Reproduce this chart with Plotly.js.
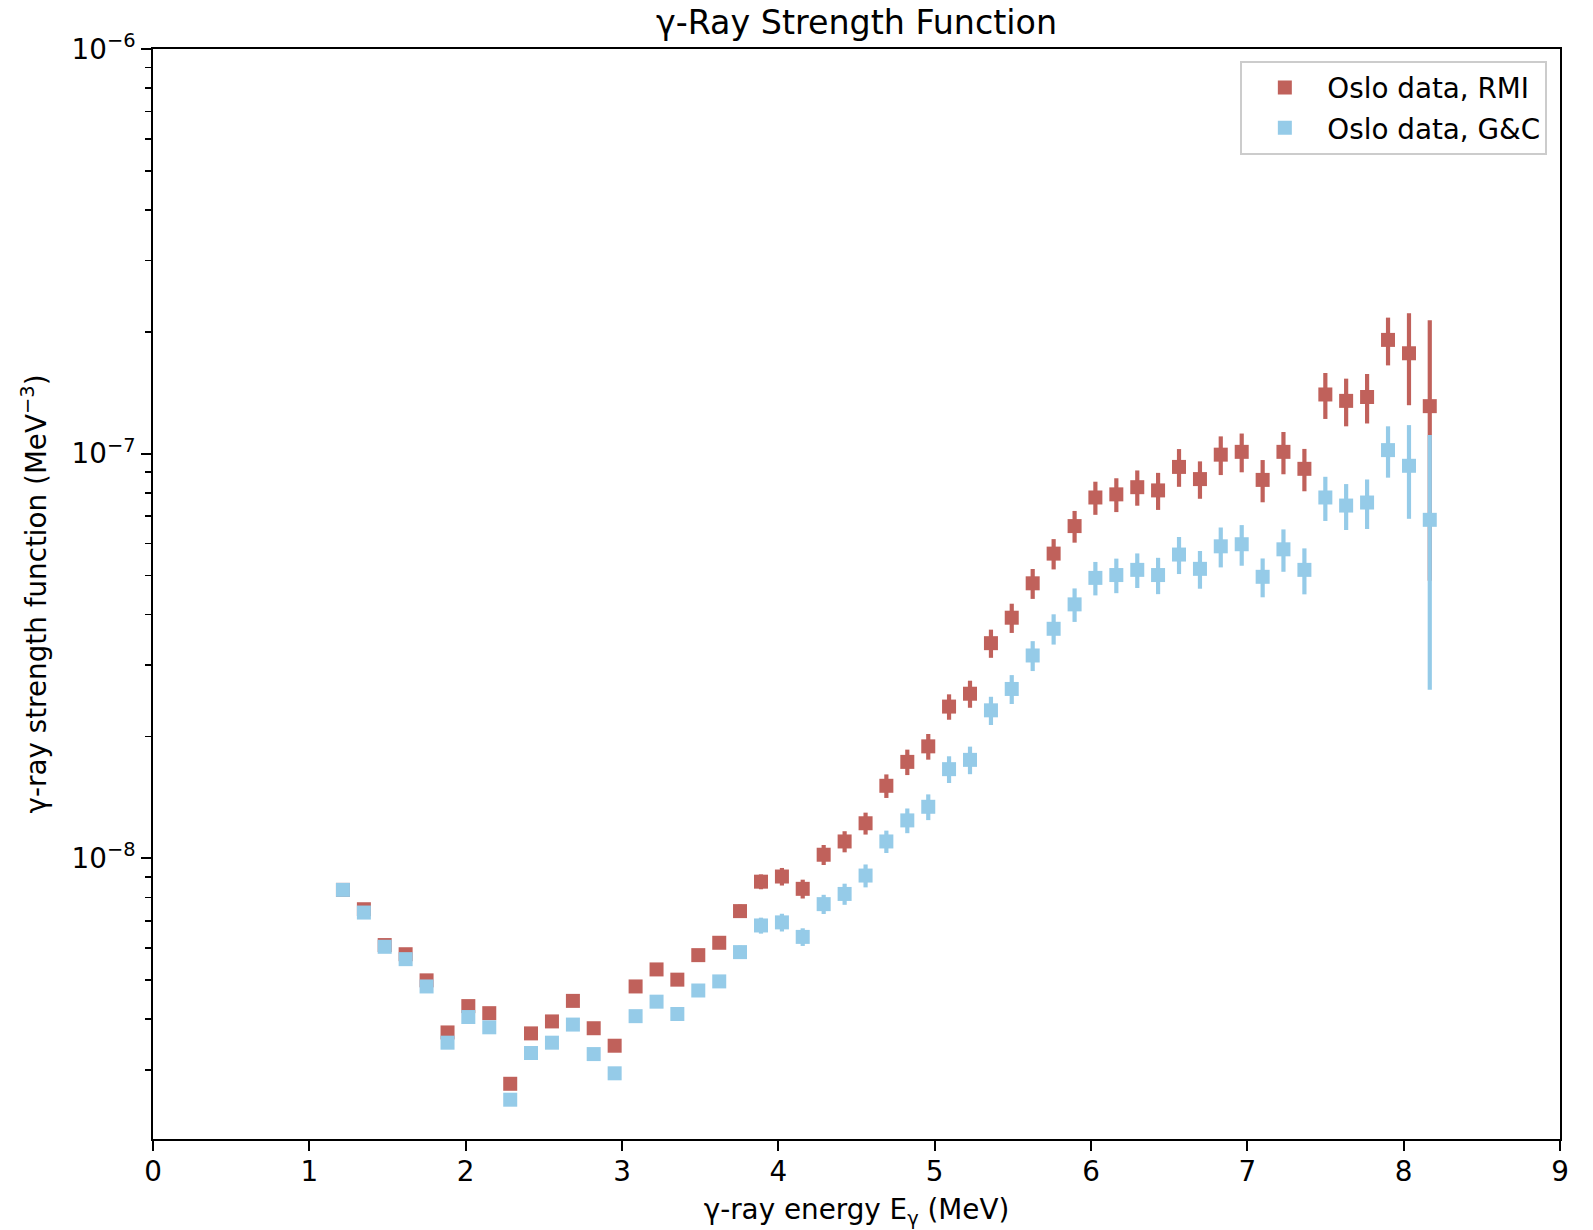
<!DOCTYPE html>
<html>
<head>
<meta charset="utf-8">
<script src="https://cdn.plot.ly/plotly-3.0.1.min.js"></script>
<style>html,body{margin:0;padding:0;background:#fff;}#chart{width:1593px;height:1230px;}</style>
</head>
<body>
<div id="chart"></div>
<script>
// gamma-ray energies (MeV)
const energy = [1.215,1.349,1.482,1.616,1.750,1.884,2.017,2.151,2.285,2.418,2.552,2.686,2.819,2.953,3.087,3.221,3.354,3.488,3.622,3.755,3.889,4.023,4.156,4.290,4.424,4.558,4.691,4.825,4.959,5.092,5.226,5.360,5.493,5.627,5.761,5.895,6.028,6.162,6.296,6.429,6.563,6.697,6.830,6.964,7.098,7.231,7.365,7.499,7.632,7.766,7.900,8.034,8.167];

// Oslo data, RMI
const rmiValues = [8.35e-9,7.48e-9,6.10e-9,5.79e-9,4.99e-9,3.71e-9,4.31e-9,4.14e-9,2.77e-9,3.69e-9,3.95e-9,4.44e-9,3.80e-9,3.44e-9,4.82e-9,5.31e-9,5.01e-9,5.76e-9,6.18e-9,7.40e-9,8.75e-9,9.01e-9,8.40e-9,1.02e-8,1.10e-8,1.22e-8,1.51e-8,1.73e-8,1.89e-8,2.37e-8,2.55e-8,3.40e-8,3.93e-8,4.78e-8,5.66e-8,6.62e-8,7.79e-8,7.93e-8,8.26e-8,8.11e-8,9.27e-8,8.65e-8,9.94e-8,1.01e-7,8.61e-8,1.01e-7,9.17e-8,1.40e-7,1.35e-7,1.38e-7,1.91e-7,1.77e-7,1.31e-7];
const rmiErrors = [1.67e-10,1.50e-10,1.22e-10,1.16e-10,1.00e-10,7.4e-11,8.6e-11,8.3e-11,5.5e-11,7.4e-11,7.9e-11,8.9e-11,7.6e-11,6.9e-11,1.2e-10,1.3e-10,1.4e-10,1.7e-10,2.0e-10,2.8e-10,3.7e-10,4.5e-10,4.5e-10,5.8e-10,6.6e-10,7.6e-10,1.01e-9,1.25e-9,1.38e-9,1.71e-9,1.96e-9,2.72e-9,3.26e-9,4.06e-9,4.87e-9,5.96e-9,7.32e-9,7.61e-9,8.26e-9,8.52e-9,9.92e-9,9.17e-9,1.09e-8,1.11e-8,1.03e-8,1.21e-8,1.10e-8,1.82e-8,1.82e-8,1.93e-8,2.58e-8,4.53e-8,8.25e-8];

// Oslo data, G&C
const gcValues = [8.35e-9,7.34e-9,6.04e-9,5.63e-9,4.82e-9,3.50e-9,4.05e-9,3.82e-9,2.53e-9,3.30e-9,3.50e-9,3.88e-9,3.28e-9,2.94e-9,4.07e-9,4.42e-9,4.12e-9,4.71e-9,4.96e-9,5.86e-9,6.82e-9,6.94e-9,6.39e-9,7.70e-9,8.16e-9,9.06e-9,1.10e-8,1.24e-8,1.34e-8,1.66e-8,1.75e-8,2.32e-8,2.62e-8,3.17e-8,3.69e-8,4.24e-8,4.93e-8,5.01e-8,5.16e-8,5.01e-8,5.63e-8,5.19e-8,5.90e-8,5.97e-8,4.96e-8,5.80e-8,5.16e-8,7.79e-8,7.44e-8,7.57e-8,1.02e-7,9.33e-8,6.86e-8];
const gcErrors = [1.67e-10,1.47e-10,1.21e-10,1.13e-10,9.6e-11,7.0e-11,8.1e-11,7.6e-11,5.1e-11,6.6e-11,7.0e-11,7.8e-11,6.6e-11,5.9e-11,1.0e-10,1.1e-10,1.15e-10,1.4e-10,1.6e-10,2.2e-10,3.1e-10,3.5e-10,3.2e-10,4.2e-10,4.9e-10,5.9e-10,7.0e-10,8.7e-10,9.8e-10,1.26e-9,1.37e-9,1.86e-9,2.15e-9,2.69e-9,3.17e-9,4.03e-9,4.68e-9,4.91e-9,5.06e-9,5.16e-9,5.91e-9,5.55e-9,6.67e-9,6.87e-9,5.46e-9,6.96e-9,6.71e-9,9.74e-9,9.67e-9,1.06e-8,1.48e-8,2.43e-8,4.25e-8];

const xTicks = [0,1,2,3,4,5,6,7,8,9];
const yTickVals = [1e-8,1e-7,1e-6];
const yTickText = ['10<sup>−8</sup>','10<sup>−7</sup>','10<sup>−6</sup>'];

const red = '#c0615b';
const blue = '#95cbe8';
const FONT = 'DejaVu Sans, sans-serif';

const minorVals = [];
[1e-9,1e-8,1e-7].forEach(d => { for (let k = 2; k <= 9; k++) minorVals.push(k*d); });

const traces = [
  {
    x: energy, y: rmiValues, type: 'scatter', mode: 'markers', name: 'Oslo data, RMI',
    legendgroup: 'a',
    marker: {symbol: 'square', size: 14, color: red},
    error_y: {type: 'data', array: rmiErrors, visible: true, color: red, thickness: 4.2, width: 0}
  },
  {
    x: energy, y: gcValues, type: 'scatter', mode: 'markers', name: 'Oslo data, G&C',
    legendgroup: 'b',
    marker: {symbol: 'square', size: 14, color: blue},
    error_y: {type: 'data', array: gcErrors, visible: true, color: blue, thickness: 4.2, width: 0}
  }
];

const layout = {
  width: 1593, height: 1230,
  paper_bgcolor: '#fff', plot_bgcolor: '#fff',
  font: {family: FONT, size: 27.8, color: '#000'},
  margin: {l: 152.5, r: 32.5, t: 49, b: 91, pad: 0},
  title: {text: 'γ-Ray Strength Function', font: {family: FONT, size: 33.3, color: '#000'},
          x: 0.5, xref: 'paper', xanchor: 'center', y: 1 - 22/1230, yref: 'container', yanchor: 'middle'},
  showlegend: true,
  legend: {
    x: 0.991, y: 0.989, xanchor: 'right', yanchor: 'top',
    bgcolor: 'rgba(255,255,255,0.8)', bordercolor: '#cccccc', borderwidth: 2,
    font: {family: FONT, size: 27.8, color: '#000'},
    tracegroupgap: 1, itemwidth: 75, traceorder: 'grouped'
  },
  xaxis: {
    range: [0, 9], tickmode: 'array', tickvals: xTicks, ticktext: xTicks.map(String),
    ticks: 'outside', ticklen: 9.7, tickwidth: 2.2, tickcolor: '#000', ticklabelstandoff: -3,
    showline: true, linecolor: '#000', linewidth: 2.2, mirror: true,
    showgrid: false, zeroline: false,
    tickfont: {family: FONT, size: 27.8, color: '#000'},
    title: {text: 'γ-ray energy E<sub>γ</sub> (MeV)', font: {family: FONT, size: 27.8, color: '#000'}, standoff: 13}
  },
  yaxis: {
    type: 'log', range: [-8.694, -6],
    tickmode: 'array', tickvals: yTickVals, ticktext: yTickText,
    ticks: 'outside', ticklen: 9.7, tickwidth: 2.2, tickcolor: '#000',
    minor: {tickmode: 'array', tickvals: minorVals, ticks: 'outside', ticklen: 5.6, tickwidth: 1.6, tickcolor: '#000', showgrid: false},
    showline: true, linecolor: '#000', linewidth: 2.2, mirror: true,
    showgrid: false, zeroline: false,
    tickfont: {family: FONT, size: 27.8, color: '#000'},
    title: {text: 'γ-ray strength function (MeV<sup>−3</sup>)', font: {family: FONT, size: 27.8, color: '#000'}, standoff: 17}
  }
};

Plotly.newPlot('chart', traces, layout, {displayModeBar: false, staticPlot: true});
</script>
</body>
</html>
